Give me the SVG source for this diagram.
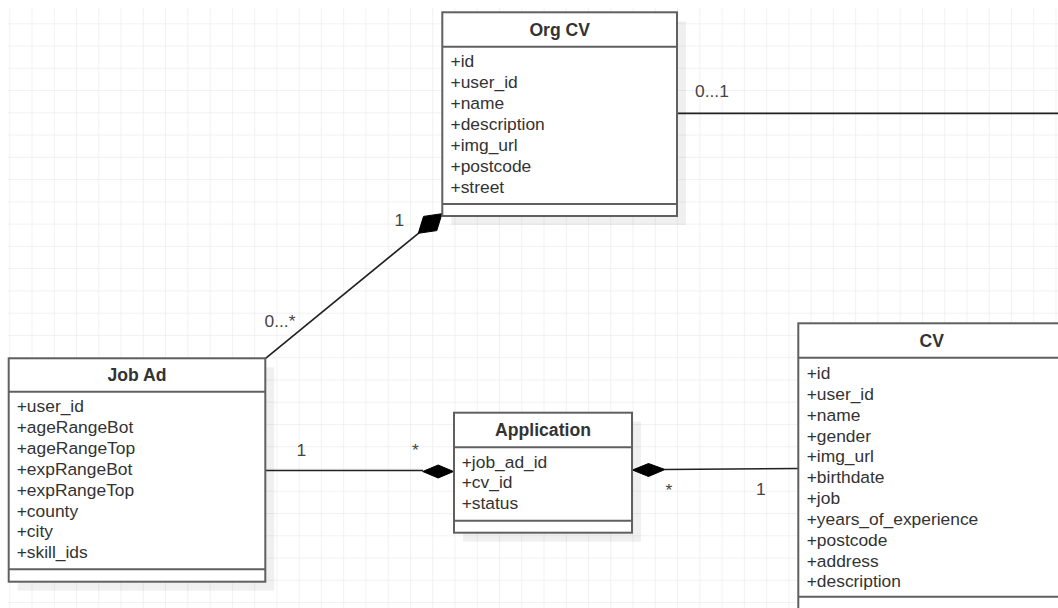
<svg xmlns="http://www.w3.org/2000/svg" width="1058" height="608" viewBox="0 0 1058 608">
  <style>
    .box { fill: #ffffff; stroke: #606060; stroke-width: 2; }
    .sep { stroke: #606060; stroke-width: 2; fill: none; }
    .shadow { fill: #000000; fill-opacity: 0.06; }
    .title { font-family: "Liberation Sans", Arial, sans-serif; font-size: 17.6px; font-weight: bold; fill: #333333; text-anchor: middle; }
    .attr { font-family: "Liberation Sans", Arial, sans-serif; font-size: 17.4px; fill: #333333; }
    .lbl { font-family: "Liberation Sans", Arial, sans-serif; font-size: 17.4px; fill: #444444; }
    .conn { stroke: #222222; stroke-width: 1.7; fill: none; }
    .dia { fill: #000000; stroke: #000000; stroke-width: 1; }
  </style>
  <defs>
    <pattern id="grid" patternUnits="userSpaceOnUse" x="9.3" y="1.04" width="22.26" height="22.26">
      <rect x="-0.6" y="0" width="1.3" height="22.26" fill="#ececec"/>
      <rect x="0" y="-0.6" width="22.26" height="1.3" fill="#ececec"/>
    </pattern>
  </defs>
  <rect x="0" y="0" width="1058" height="608" fill="#ffffff"/>
  <rect x="8" y="8" width="1050" height="600" fill="url(#grid)"/>

  <g id="connectors">
    <line class="conn" x1="677" y1="113.3" x2="1058" y2="113.3" stroke="#444" stroke-width="2"/>
    <text class="lbl" x="695" y="97.3">0...1</text>

    <line class="conn" x1="265.3" y1="358.6" x2="419" y2="232.8"/>
    <polygon class="dia" points="442,213.7 436.8,230.6 418.3,233.3 423.5,216.4"/>
    <text class="lbl" x="394.5" y="226">1</text>
    <text class="lbl" x="264.5" y="326.7">0...*</text>

    <line class="conn" x1="265.3" y1="470.5" x2="423" y2="470.5"/>
    <polygon class="dia" points="453.5,471.5 438.2,478 422.7,471.5 438.2,465"/>
    <text class="lbl" x="296.5" y="455.7">1</text>
    <text class="lbl" x="412" y="455.7">*</text>

    <line class="conn" x1="665" y1="469.5" x2="798.3" y2="468.5"/>
    <polygon class="dia" points="632.5,470 648.5,463.5 665,469.5 648.5,476.5"/>
    <text class="lbl" x="665.5" y="496">*</text>
    <text class="lbl" x="756" y="495">1</text>
  </g>

  <g id="org-cv">
    <rect class="shadow" x="451.3" y="21.3" width="234.7" height="203.7"/>
    <rect class="box" x="442.3" y="12.3" width="234.7" height="203.7"/>
    <line class="sep" x1="442.3" y1="46.7" x2="677" y2="46.7"/>
    <line class="sep" x1="442.3" y1="204" x2="677" y2="204"/>
    <text class="title" x="559.7" y="36">Org CV</text>
    <text class="attr" x="450.5" y="66.7">+id</text>
    <text class="attr" x="450.5" y="87.7">+user_id</text>
    <text class="attr" x="450.5" y="108.7">+name</text>
    <text class="attr" x="450.5" y="129.7">+description</text>
    <text class="attr" x="450.5" y="150.7">+img_url</text>
    <text class="attr" x="450.5" y="171.7">+postcode</text>
    <text class="attr" x="450.5" y="192.7">+street</text>
  </g>

  <g id="job-ad">
    <rect class="shadow" x="17.7" y="367.3" width="256.6" height="223.4"/>
    <rect class="box" x="8.7" y="358.3" width="256.6" height="223.4"/>
    <line class="sep" x1="8.7" y1="391.7" x2="265.3" y2="391.7"/>
    <line class="sep" x1="8.7" y1="569.3" x2="265.3" y2="569.3"/>
    <text class="title" x="137" y="380.7">Job Ad</text>
    <text class="attr" x="16.7" y="412.3">+user_id</text>
    <text class="attr" x="16.7" y="433.2">+ageRangeBot</text>
    <text class="attr" x="16.7" y="454">+ageRangeTop</text>
    <text class="attr" x="16.7" y="474.9">+expRangeBot</text>
    <text class="attr" x="16.7" y="495.7">+expRangeTop</text>
    <text class="attr" x="16.7" y="516.6">+county</text>
    <text class="attr" x="16.7" y="537.4">+city</text>
    <text class="attr" x="16.7" y="558.3">+skill_ids</text>
  </g>

  <g id="application">
    <rect class="shadow" x="463" y="421.7" width="178" height="120"/>
    <rect class="box" x="454" y="412.7" width="178" height="120"/>
    <line class="sep" x1="454" y1="447.3" x2="632" y2="447.3"/>
    <line class="sep" x1="454" y1="520.7" x2="632" y2="520.7"/>
    <text class="title" x="543" y="435.7">Application</text>
    <text class="attr" x="461.7" y="467.7">+job_ad_id</text>
    <text class="attr" x="461.7" y="488.4">+cv_id</text>
    <text class="attr" x="461.7" y="509">+status</text>
  </g>

  <g id="cv">
    <rect class="shadow" x="807.3" y="332.3" width="267" height="300"/>
    <rect class="box" x="798.3" y="323.3" width="267" height="300"/>
    <line class="sep" x1="798.3" y1="357.7" x2="1065.3" y2="357.7"/>
    <line class="sep" x1="798.3" y1="596.7" x2="1065.3" y2="596.7"/>
    <text class="title" x="931.7" y="346.7">CV</text>
    <text class="attr" x="806.7" y="379">+id</text>
    <text class="attr" x="806.7" y="399.8">+user_id</text>
    <text class="attr" x="806.7" y="420.7">+name</text>
    <text class="attr" x="806.7" y="441.5">+gender</text>
    <text class="attr" x="806.7" y="462.3">+img_url</text>
    <text class="attr" x="806.7" y="483.2">+birthdate</text>
    <text class="attr" x="806.7" y="504">+job</text>
    <text class="attr" x="806.7" y="524.8">+years_of_experience</text>
    <text class="attr" x="806.7" y="545.6">+postcode</text>
    <text class="attr" x="806.7" y="566.5">+address</text>
    <text class="attr" x="806.7" y="587.3">+description</text>
  </g>
</svg>
